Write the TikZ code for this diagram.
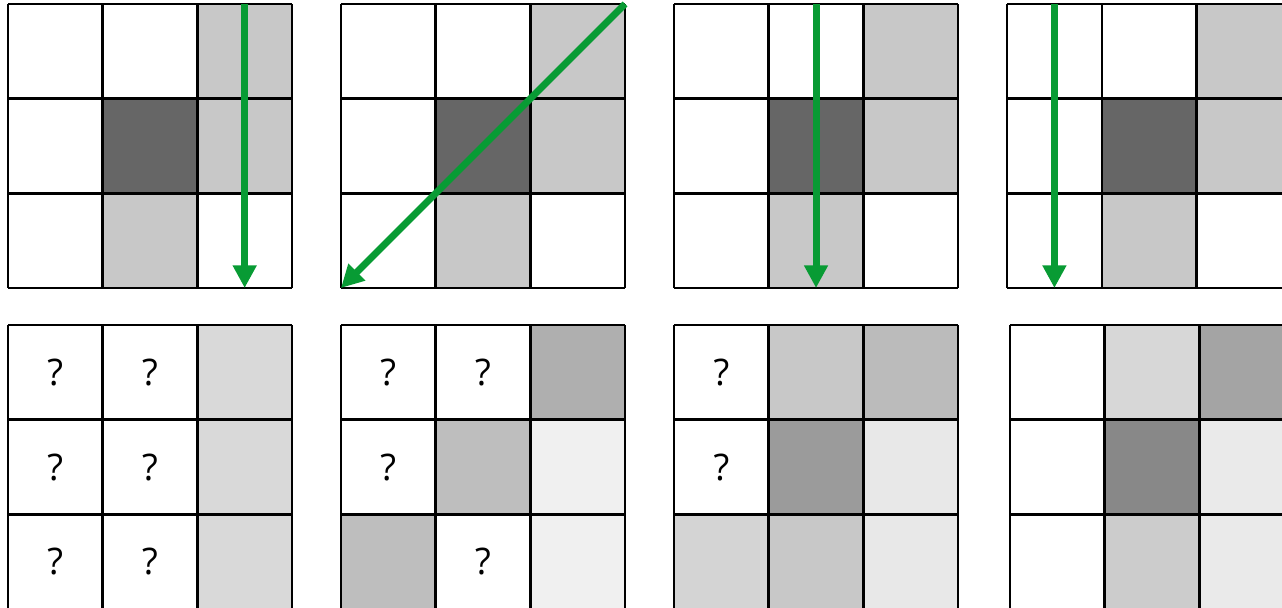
\documentclass[tikz,border=0pt]{standalone}
\usepackage{fontspec}
\setmainfont{Open Sans}
\usetikzlibrary{arrows.meta}
\definecolor{flowc}{RGB}{8,155,52}
\tikzset{
  gridline/.style={black, line width=0.75pt},
  flow/.style={flowc, line width=2.1pt, -{Triangle[width=6.8pt,length=6.8pt]}},
  unknown/.style={font=\fontsize{11}{13}\selectfont, inner sep=0pt},
}

\begin{document}
\begin{tikzpicture}
\useasboundingbox (-0.0845,0) rectangle (13.457,6.412);

\newcommand{\kernelgrid}[5]{%
  \begin{scope}[shift={(#1,#2)}]
    \foreach \col/\row/\val in {#4} {
      \definecolor{cellc}{gray}{\val}
      \fill[cellc] (\col,-\row) rectangle ++(1,-1);
    }
    \draw[gridline] (0,0) grid (3,-3);
    \foreach \col in {0,1,2} {
      \coordinate (#3-n\col) at (\col+0.5,0);
      \coordinate (#3-s\col) at (\col+0.5,-3);
    }
    \coordinate (#3-ne) at (3,0);
    \coordinate (#3-sw) at (0,-3);
    \foreach \col/\row in {#5}
      \node[unknown] (#3-q\col\row) at (\col+0.5,-\row-0.5) {?};
  \end{scope}
}

% top row: the same kernel, scanned in four directions
\kernelgrid{0}{6.370}{ka}{2/0/0.784, 2/1/0.784, 1/1/0.4, 1/2/0.784}{}
\kernelgrid{3.517}{6.370}{kb}{2/0/0.784, 2/1/0.784, 1/1/0.4, 1/2/0.784}{}
\kernelgrid{7.035}{6.370}{kc}{2/0/0.784, 2/1/0.784, 1/1/0.4, 1/2/0.784}{}
\kernelgrid{10.553}{6.370}{kd}{2/0/0.784, 2/1/0.784, 1/1/0.4, 1/2/0.784}{}

\draw[flow] (ka-n2) -- (ka-s2);
\draw[flow] (kb-ne) -- (kb-sw);
\draw[flow] (kc-n1) -- (kc-s1);
\draw[flow] (kd-n0) -- (kd-s0);

% bottom row: partial results
\kernelgrid{0}{2.979}{ra}{2/0/0.851, 2/1/0.851, 2/2/0.851}%
  {0/0, 1/0, 0/1, 1/1, 0/2, 1/2}
\kernelgrid{3.517}{2.979}{rb}{2/0/0.686, 1/1/0.745, 2/1/0.941, 0/2/0.745, 2/2/0.941}%
  {0/0, 1/0, 0/1, 1/2}
\kernelgrid{7.035}{2.979}{rc}{1/0/0.784, 2/0/0.733, 1/1/0.608, 2/1/0.910, 0/2/0.831, 1/2/0.784, 2/2/0.910}%
  {0/0, 0/1}
\kernelgrid{10.584}{2.979}{rd}{1/0/0.843, 2/0/0.643, 1/1/0.533, 2/1/0.918, 1/2/0.8, 2/2/0.918}{}
\end{tikzpicture}
\end{document}
